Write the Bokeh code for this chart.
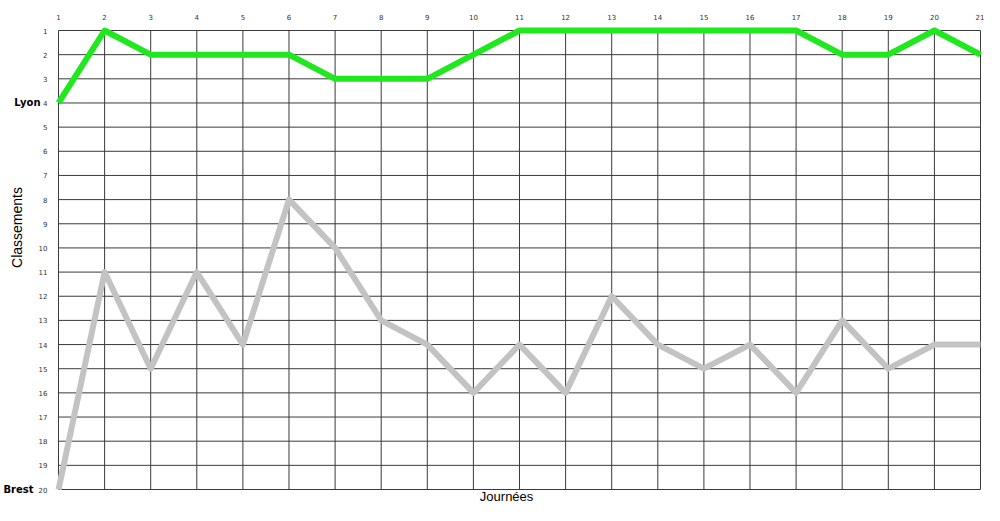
import math
from bokeh.plotting import figure
from bokeh.models import Range1d, FixedTicker
from bokeh.layouts import row
from bokeh.core.properties import value
from bokeh.embed import file_html
from bokeh.resources import INLINE

# ---- data ----
journees = list(range(1, 22))
classements = list(range(1, 21))
lyon = [4, 1, 2, 2, 2, 2, 3, 3, 3, 2, 1, 1, 1, 1, 1, 1, 1, 2, 2, 1, 2]
brest = [20, 11, 15, 11, 14, 8, 10, 13, 14, 16, 14, 16, 12, 14, 15, 14, 16, 13, 15, 14, 14]
team_names = ["Lyon", "Brest"]
rank_labels = [str(c) for c in classements]
x_title = "Journées"
y_title = "Classements"

GRID = "#3a3a3a"
TICK = "#333333"
H = 505
LEFT_W = 51
MAIN_W = 984 - LEFT_W

y_range = Range1d(20.662, 0.793)

# ---- side panel: y title, rank labels and team names ----
side = figure(width=LEFT_W, height=H, output_backend="svg", toolbar_location=None,
              x_range=Range1d(0, LEFT_W), y_range=y_range,
              x_axis_location=None, y_axis_location=None,
              min_border_left=0, min_border_right=0, min_border_top=25, min_border_bottom=0)
side.outline_line_color = None
side.xgrid.visible = False
side.ygrid.visible = False
side.text(x=[16], y=[9.154], text=[y_title], angle=math.pi / 2,
          text_align="center", text_baseline="middle",
          text_font=value("Liberation Sans"), text_font_size="14px", text_color="#000000")
side.text(x=[40, 33], y=[lyon[0], brest[0]], text=team_names,
          text_align="right", text_baseline="middle",
          text_font=value("DejaVu Sans"), text_font_style="bold",
          text_font_size="10px", text_color="#000000")
side.text(x=[47] * len(classements), y=classements, text=rank_labels,
          text_align="right", text_baseline="middle",
          text_font=value("DejaVu Sans"), text_font_size="7px", text_color=TICK)

# ---- main chart ----
p = figure(width=MAIN_W, height=H, output_backend="svg", toolbar_location=None,
           x_range=Range1d(0.84816, 21.0868), y_range=y_range,
           x_axis_location="above", y_axis_location=None,
           min_border_left=0, min_border_right=0, min_border_top=25, min_border_bottom=0)
p.outline_line_color = None
p.xgrid.visible = False
p.ygrid.visible = False

ax = p.xaxis[0]
ax.axis_line_color = None
ax.major_tick_line_color = None
ax.minor_tick_line_color = None
ax.major_tick_out = 0
ax.major_tick_in = 0
ax.minor_tick_out = 0
ax.minor_tick_in = 0
ax.major_label_text_font = "DejaVu Sans"
ax.major_label_text_font_size = "7px"
ax.major_label_text_color = TICK
ax.ticker = FixedTicker(ticks=journees)
ax.major_label_standoff = 6

# grid drawn from the tick arrays
p.segment(x0=journees, x1=journees, y0=[classements[0]] * len(journees),
          y1=[classements[-1]] * len(journees), line_color=GRID, line_width=1)
p.segment(x0=[journees[0]] * len(classements), x1=[journees[-1]] * len(classements),
          y0=classements, y1=classements, line_color=GRID, line_width=1)

p.line(journees, brest, line_color="#c3c3c3", line_width=6, line_join="round")
p.line(journees, lyon, line_color="#1fe81f", line_width=6, line_join="round")

p.text(x=[10.72], y=[20.6], text=[x_title], text_align="center",
       text_baseline="bottom", text_font=value("Liberation Sans"),
       text_font_size="13px", text_color="#000000")

layout = row(side, p, spacing=0)
open("out.html", "w").write(file_html(layout, INLINE))
